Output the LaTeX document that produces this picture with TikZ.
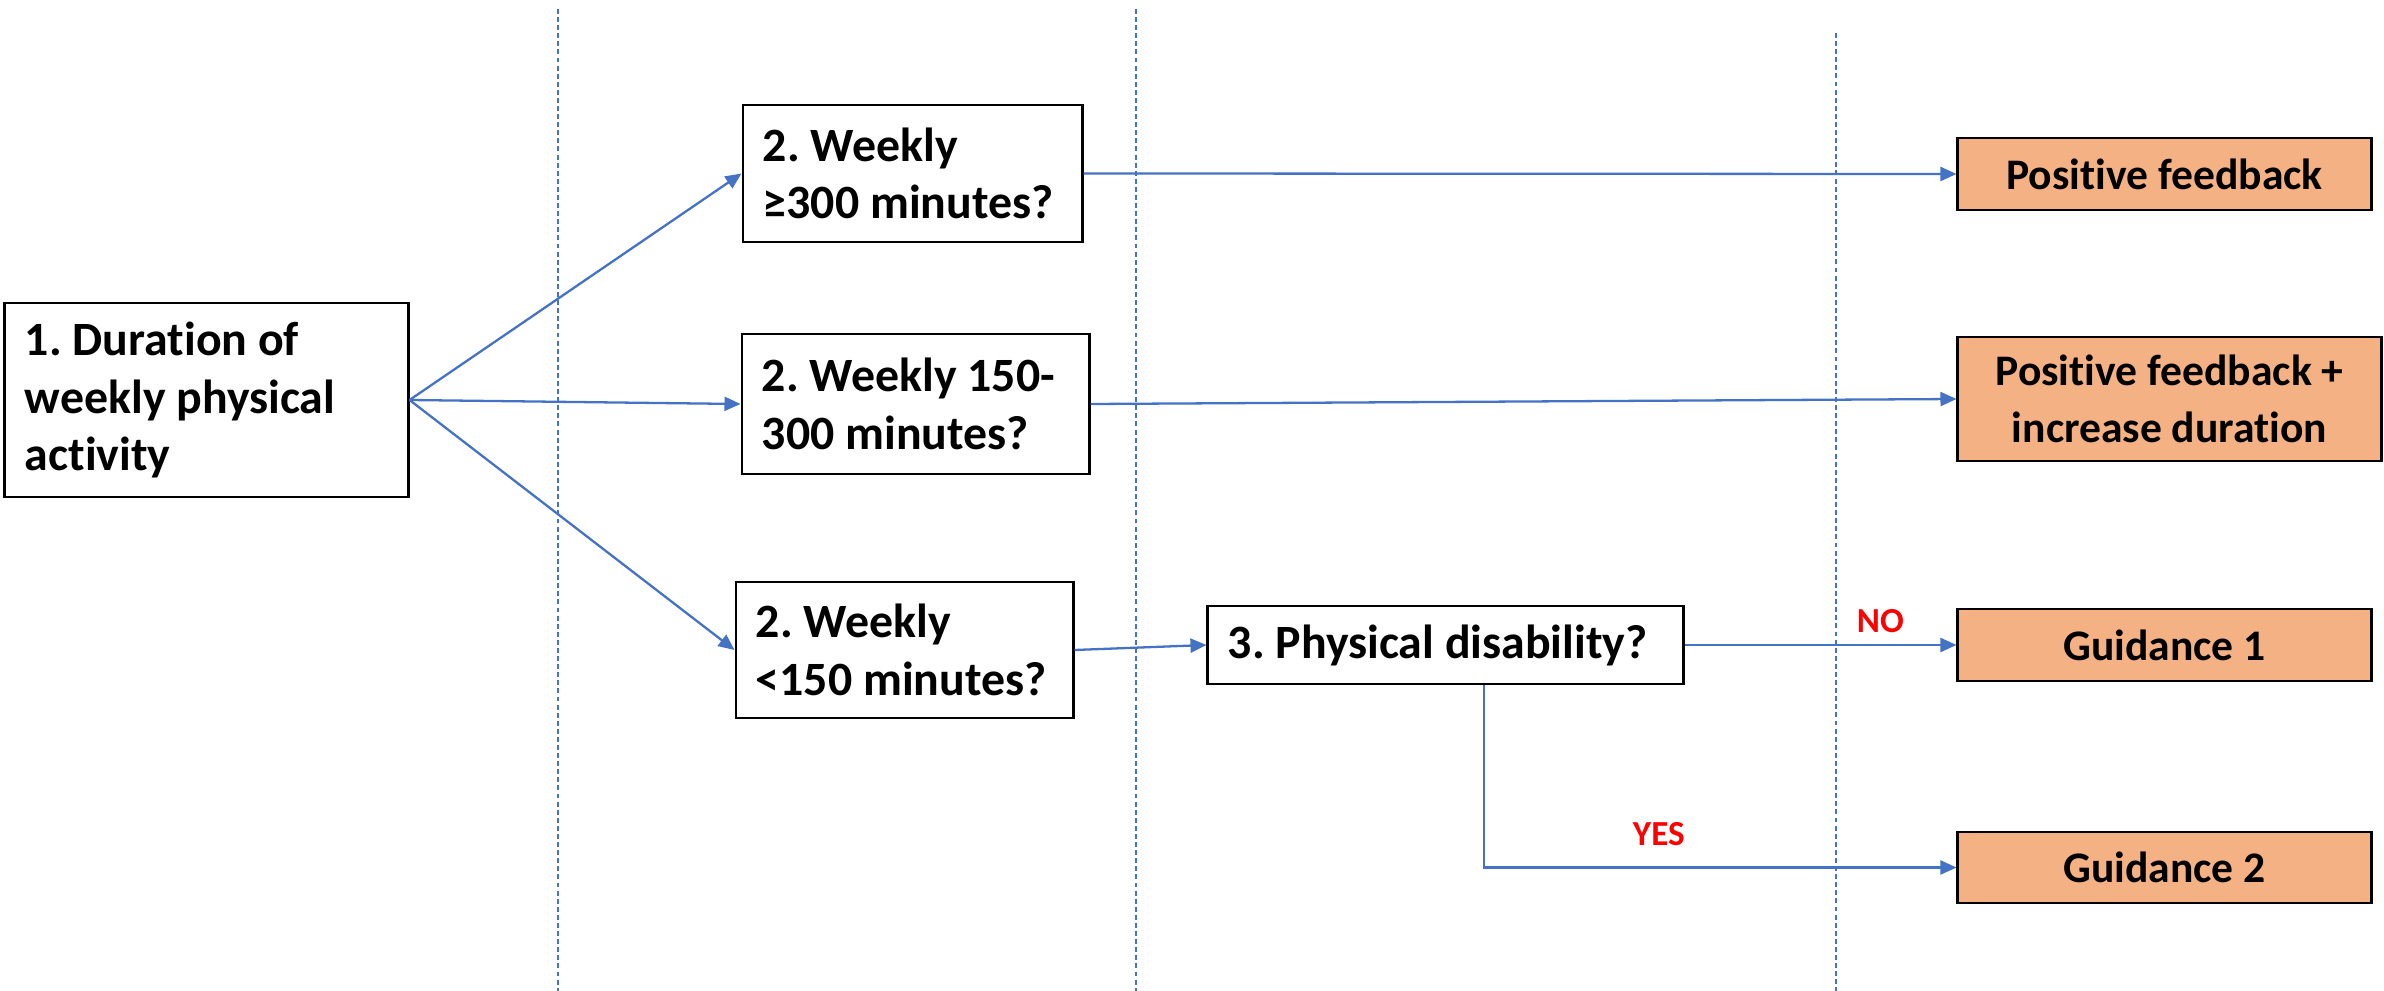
\documentclass[tikz,border=0pt]{standalone}
\usepackage{fontspec}
\setmainfont{Carlito}[Ligatures=NoCommon]
\usepackage{xcolor}
\usetikzlibrary{arrows.meta, positioning, calc}

\definecolor{flowblue}{HTML}{4472C4}
\definecolor{outfill}{HTML}{F4B183}
\frenchspacing

\begin{document}
\begin{tikzpicture}[
    x=0.01cm, y=-0.01cm,
    qbox/.style={draw, rectangle, line width=0.8pt, fill=white, align=flush left, inner xsep=0.2cm, inner ysep=0pt, font=\fontsize{13.6}{16.4}\selectfont\bfseries},
    outbox/.style={draw, rectangle, line width=0.8pt, fill=outfill, align=center, inner xsep=0.1cm, inner ysep=0pt, font=\fontsize{12.4}{16.4}\selectfont\bfseries},
    flow/.style={-{Triangle[length=0.16cm, width=0.14cm]}, line width=0.65pt, draw=flowblue},
    divider/.style={draw=flowblue, line width=0.5pt, dash pattern=on 1.4pt off 0.9pt},
    answer/.style={text=red, inner sep=0pt, font=\fontsize{10}{12}\selectfont\bfseries}
]
\useasboundingbox (0,0) rectangle (2384,991);

% separators between the stages
\draw[divider] (558,9) -- (558,991);
\draw[divider] (1136,9) -- (1136,991);
\draw[divider] (1836,33) -- (1836,991);

\node[qbox, text width=3.63cm, minimum height=1.94cm] (act) at (206.5,400) {1. Duration of\\weekly physical\\activity};
\node[qbox, text width=2.99cm, minimum height=1.37cm] (wkhigh) at (912.5,173.5) {2. Weekly\\≥300 minutes?};
\node[qbox, text width=3.07cm, minimum height=1.40cm] (wkmid) at (915.5,404) {2. Weekly 150-\\300 minutes?};
\node[qbox, text width=2.97cm, minimum height=1.36cm] (wklow) at (904.5,650) {2. Weekly\\<150 minutes?};
\node[qbox, text width=4.35cm, minimum height=0.78cm] (disab) at (1445.5,645) {3. Physical disability?};

\node[outbox, minimum width=4.13cm, minimum height=0.72cm] (posfb) at (2164.5,174) {Positive feedback};
\node[outbox, minimum width=4.23cm, minimum height=1.24cm] (posinc) at (2169.5,399) {Positive feedback +\\increase duration};
\node[outbox, minimum width=4.13cm, minimum height=0.72cm] (guide1) at (2164.5,645) {Guidance 1};
\node[outbox, minimum width=4.13cm, minimum height=0.71cm] (guide2) at (2164.5,867.5) {Guidance 2};

\draw[flow] (act.east) -- (wkhigh.west);
\draw[flow] (act.east) -- (wkmid.west);
\draw[flow] (act.east) -- (wklow.west);
\draw[flow] (wkhigh.east) -- (posfb.west);
\draw[flow] (wkmid.east) -- (posinc.west);
\draw[flow] (wklow.east) -- (disab.west);
\draw[flow] (disab.east) -- node[answer, pos=0.72, above=0.11cm]{NO} (guide1.west);

% disability branch goes down and across
\draw[flow] ([xshift=0.385cm]disab.south) |- node[answer, pos=0.685, above=0.21cm]{YES} (guide2.west);
\end{tikzpicture}
\end{document}
